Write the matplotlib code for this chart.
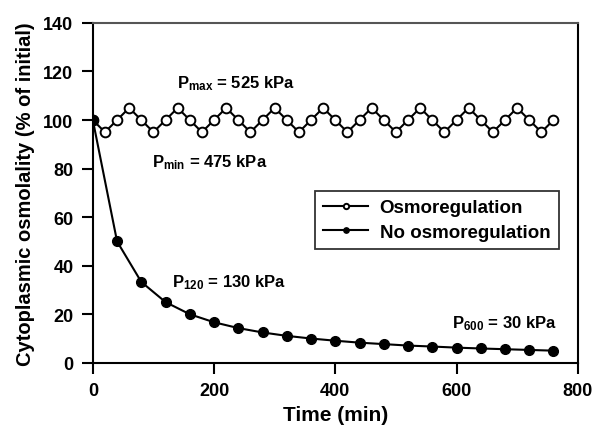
import matplotlib
matplotlib.use("Agg")
import matplotlib.pyplot as plt

plt.rcParams['font.family'] = ['Liberation Sans', 'DejaVu Sans']
plt.rcParams['font.weight'] = 'bold'
plt.rcParams['mathtext.fontset'] = 'custom'
plt.rcParams['mathtext.bf'] = 'Liberation Sans:bold'
plt.rcParams['mathtext.rm'] = 'Liberation Sans:bold'
plt.rcParams['mathtext.default'] = 'bf'

# Data
osmo_time = [0, 20, 40, 60, 80, 100, 120, 140, 160, 180, 200, 220, 240, 260, 280,
             300, 320, 340, 360, 380, 400, 420, 440, 460, 480, 500, 520, 540, 560,
             580, 600, 620, 640, 660, 680, 700, 720, 740, 760]
osmo_vals = [100, 95, 100, 105, 100, 95, 100, 105, 100, 95, 100, 105, 100, 95, 100,
             105, 100, 95, 100, 105, 100, 95, 100, 105, 100, 95, 100, 105, 100,
             95, 100, 105, 100, 95, 100, 105, 100, 95, 100]
noosmo_time = [0, 40, 80, 120, 160, 200, 240, 280, 320, 360, 400, 440, 480, 520,
               560, 600, 640, 680, 720, 760]
noosmo_vals = [100, 50, 33.3, 25, 20, 16.7, 14.3, 12.5, 11.1, 10, 9.1, 8.3, 7.7,
               7.1, 6.7, 6.25, 5.9, 5.6, 5.3, 5.0]

x_ticks = [0, 200, 400, 600, 800]
y_ticks = [0, 20, 40, 60, 80, 100, 120, 140]

fig = plt.figure(figsize=(5.95, 4.27), dpi=100)
ax = fig.add_axes([0.156, 0.148, 0.815, 0.796])

ax.plot(osmo_time, osmo_vals, '-o', color='black', lw=1.5, ms=7,
        mfc='white', mec='black', mew=1.4, label='Osmoregulation', zorder=3)
ax.plot(noosmo_time, noosmo_vals, '-o', color='black', lw=1.5, ms=7,
        mfc='black', mec='black', label='No osmoregulation', zorder=4)

ax.set_xlim(0, 800)
ax.set_ylim(0, 140)
ax.set_xticks(x_ticks)
ax.set_yticks(y_ticks)
ax.tick_params(direction='out', length=8, width=1.5, labelsize=13, pad=6)
for lbl in ax.get_xticklabels() + ax.get_yticklabels():
    lbl.set_fontweight('bold')
for s in ax.spines.values():
    s.set_linewidth(1.5)
ax.spines['top'].set_color('#555555')

ax.set_xlabel('Time (min)', fontsize=15, fontweight='bold', labelpad=4)
ax.set_ylabel('Cytoplasmic osmolality (% of initial)', fontsize=14.5,
              fontweight='bold', labelpad=6)

fs = 12
ax.text(139, 113.6, r'P$_{\mathbf{max}}$ = 525 kPa', fontsize=fs, fontweight='bold', va='baseline')
ax.text(97, 81, r'P$_{\mathbf{min}}$ = 475 kPa', fontsize=fs, fontweight='bold', va='baseline')
ax.text(130, 31.7, r'P$_{\mathbf{120}}$ = 130 kPa', fontsize=fs, fontweight='bold', va='baseline')
ax.text(592, 14.8, r'P$_{\mathbf{600}}$ = 30 kPa', fontsize=fs, fontweight='bold', va='baseline')

leg = ax.legend(loc='upper left', bbox_to_anchor=(0.458, 0.506), frameon=True,
                fancybox=False, edgecolor='black', fontsize=13.5, markerscale=0.55,
                handlelength=2.4, borderpad=0.45, labelspacing=0.4, handletextpad=0.6,
                borderaxespad=0)
leg.get_frame().set_linewidth(1.3)
for t in leg.get_texts():
    t.set_fontweight('bold')

fig.savefig('out.png', dpi=100)
